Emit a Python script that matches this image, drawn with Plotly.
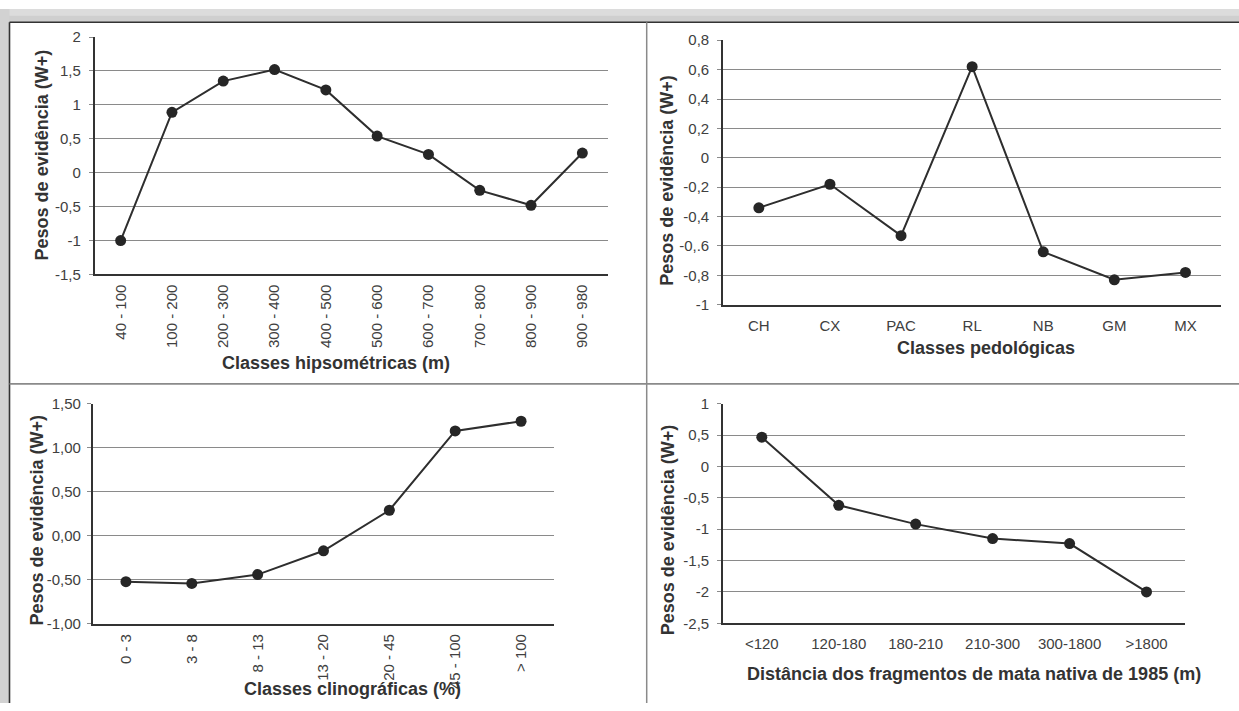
import plotly.graph_objects as go

W, H = 1239, 711

# ---------------- data ----------------
hip_classes = ["40 - 100", "100 - 200", "200 - 300", "300 - 400", "400 - 500",
               "500 - 600", "600 - 700", "700 - 800", "800 - 900", "900 - 980"]
hip_values = [-1.0, 0.89, 1.35, 1.52, 1.22, 0.54, 0.27, -0.26, -0.48, 0.29]
hip_ticks = [2, 1.5, 1, 0.5, 0, -0.5, -1, -1.5]
hip_ticktext = ["2", "1,5", "1", "0,5", "0", "-0,5", "-1", "-1,5"]

ped_classes = ["CH", "CX", "PAC", "RL", "NB", "GM", "MX"]
ped_values = [-0.34, -0.18, -0.53, 0.62, -0.64, -0.83, -0.78]
ped_ticks = [0.8, 0.6, 0.4, 0.2, 0, -0.2, -0.4, -0.6, -0.8, -1]
ped_ticktext = ["0,8", "0,6", "0,4", "0,2", "0", "-0,2", "-0,4", "-0,.6", "-0,8", "-1"]

cli_classes = ["0 - 3", "3 - 8", "8 - 13", "13 - 20", "20 - 45", "45 - 100", "> 100"]
cli_values = [-0.52, -0.54, -0.44, -0.17, 0.29, 1.19, 1.30]
cli_ticks = [1.5, 1.0, 0.5, 0.0, -0.5, -1.0]
cli_ticktext = ["1,50", "1,00", "0,50", "0,00", "-0,50", "-1,00"]

dist_classes = ["<120", "120-180", "180-210", "210-300", "300-1800", ">1800"]
dist_values = [0.465, -0.62, -0.92, -1.15, -1.23, -2.0]
dist_ticks = [1, 0.5, 0, -0.5, -1, -1.5, -2, -2.5]
dist_ticktext = ["1", "0,5", "0", "-0,5", "-1", "-1,5", "-2", "-2,5"]

y_title = "Pesos de evidência (W+)"
x_titles = ["Classes hipsométricas (m)", "Classes pedológicas",
            "Classes clinográficas (%)", "Distância dos fragmentos de mata nativa de 1985 (m)"]

# ---------------- helpers ----------------
def px_x(p):
    return p / W

def px_y(p):
    return 1 - p / H

FONT = "Liberation Sans, Arial, sans-serif"
LINE_C = "#2e2e2e"
GRID_C = "#8a8a8a"
TICK_C = "#404040"

panels = [
    # classes, values, ticks, ticktext, yrange, x-domain px, y-domain px, tickangle, standoff
    (hip_classes, hip_values, hip_ticks, hip_ticktext, [-1.5, 2], (95, 608), (28.7, 272), -90, 5),
    (ped_classes, ped_values, ped_ticks, ped_ticktext, [-1, 0.8], (723.3, 1221), (32, 303), 0, 5),
    (cli_classes, cli_values, cli_ticks, cli_ticktext, [-1, 1.5], (93, 554), (404.3, 630), -90, 3),
    (dist_classes, dist_values, dist_ticks, dist_ticktext, [-2.5, 1], (723.3, 1185), (404.3, 629.3), 0, 5),
]

fig = go.Figure()
layout = {}
for i, (cats, vals, tv, tt, yr, xd, yd, ang, so) in enumerate(panels, start=1):
    sx = "" if i == 1 else str(i)
    fig.add_trace(go.Scatter(
        x=cats, y=vals, mode="lines+markers",
        xaxis="x" + sx, yaxis="y" + sx,
        line=dict(color=LINE_C, width=2),
        marker=dict(color="#262626", size=11, symbol="circle"),
        showlegend=False, hoverinfo="x+y",
    ))
    layout["xaxis" + sx] = dict(
        type="category", domain=[px_x(xd[0]), px_x(xd[1])],
        anchor="y" + sx, range=[-0.5, len(cats) - 0.5],
        showline=True, linecolor="#333333", linewidth=2.2,
        showgrid=False, zeroline=False,
        ticks="outside", ticklen=2 if ang else 6, tickcolor="rgba(0,0,0,0)",
        tickangle=ang, tickfont=dict(family=FONT, size=15, color=TICK_C),
        fixedrange=True,
    )
    layout["yaxis" + sx] = dict(
        domain=[px_y(yd[1]), px_y(yd[0])], anchor="x" + sx,
        range=yr, tickvals=tv, ticktext=tt,
        showline=True, linecolor="#333333", linewidth=2.2,
        showgrid=True, gridcolor=GRID_C, gridwidth=1.3,
        zeroline=False,
        ticks="outside", ticklen=4, tickcolor=GRID_C,
        ticklabelstandoff=so,
        tickfont=dict(family=FONT, size=15, color=TICK_C),
        fixedrange=True,
    )

# ---------------- frame / dividers ----------------
shapes = [
    # grey surround (top band & left band)
    dict(type="rect", xref="paper", yref="paper", x0=0, x1=1, y0=px_y(13.5), y1=1,
         fillcolor="#dcdcdc", line=dict(width=0), layer="below"),
    dict(type="rect", xref="paper", yref="paper", x0=0, x1=1, y0=px_y(13.5), y1=px_y(7),
         fillcolor="#cfcfcf", line=dict(width=0), layer="below"),
    dict(type="rect", xref="paper", yref="paper", x0=0, x1=px_x(9.5), y0=0, y1=1,
         fillcolor="#d2d2d2", line=dict(width=0), layer="below"),
    # frame lines
    dict(type="line", xref="paper", yref="paper", x0=px_x(9.5), x1=1, y0=px_y(13.5), y1=px_y(13.5),
         line=dict(color="#333333", width=1.6)),
    dict(type="line", xref="paper", yref="paper", x0=px_x(9.5), x1=px_x(9.5), y0=0, y1=px_y(13.5),
         line=dict(color="#333333", width=1.6)),
    # dividers
    dict(type="line", xref="paper", yref="paper", x0=px_x(646.7), x1=px_x(646.7), y0=0, y1=px_y(13.5),
         line=dict(color="#8a8a8a", width=1.5)),
    dict(type="line", xref="paper", yref="paper", x0=px_x(9.5), x1=1, y0=px_y(384), y1=px_y(384),
         line=dict(color="#8a8a8a", width=1.8)),
]

# ---------------- titles ----------------
annotations = []
xt_pos = [(336, 363), (986, 347), (352, 697), (974, 681)]
yt_pos = [(42, 150), (667, 176), (37, 524), (668, 534)]
for (x, y), t in zip(xt_pos, x_titles):
    annotations.append(dict(text="<b>%s</b>" % t, xref="paper", yref="paper",
                            x=px_x(x), y=px_y(y), xanchor="center", yanchor="middle",
                            showarrow=False, font=dict(family=FONT, size=18, color="#333333")))
for (x, y) in yt_pos:
    annotations.append(dict(text="<b>%s</b>" % y_title, xref="paper", yref="paper",
                            x=px_x(x), y=px_y(y), xanchor="center", yanchor="middle",
                            textangle=-90, showarrow=False,
                            font=dict(family=FONT, size=18, color="#333333")))

fig.update_layout(
    width=W, height=H,
    margin=dict(l=0, r=0, t=0, b=0),
    paper_bgcolor="white", plot_bgcolor="white",
    shapes=shapes, annotations=annotations,
    font=dict(family=FONT),
    **layout,
)

fig.write_html("out.html", config={"displayModeBar": False},
               post_script="document.body.style.margin='0';document.body.style.overflow='hidden';")
